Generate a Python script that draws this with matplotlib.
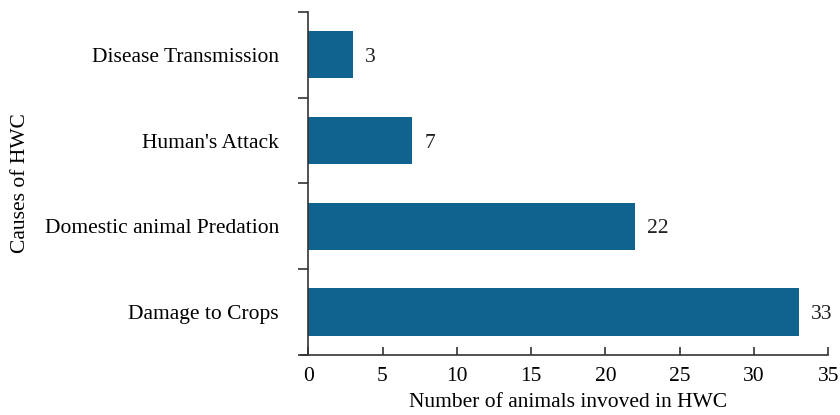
import matplotlib
matplotlib.use('Agg')
import matplotlib.pyplot as plt

# data
causes = ['Damage to Crops', 'Domestic animal Predation', "Human's Attack", 'Disease Transmission']
counts = [33, 22, 7, 3]
xticks = [0, 5, 10, 15, 20, 25, 30, 35]

plt.rcParams['font.family'] = ['Liberation Serif', 'DejaVu Serif']

fig = plt.figure(figsize=(8.4, 4.15), dpi=100)
ax = fig.add_axes([0.367, 0.145, 0.619, 0.826])

ypos = range(len(causes))
ax.barh(ypos, counts, height=0.55, color='#10628f')

# value labels at bar ends
for y, v in zip(ypos, counts):
    ax.text(v + 0.8, y, str(v), va='center_baseline', ha='left', fontsize=15.5, color='#222222')

ax.set_xlim(0, 35)
ax.set_ylim(-0.5, len(causes) - 0.5)
ax.set_xticks(xticks)
ax.set_xticklabels([str(t) for t in xticks], fontsize=15.5)

# y ticks at category boundaries, labels at centers
ax.set_yticks([i - 0.5 for i in range(len(causes) + 1)])
ax.set_yticklabels([])
ax.set_yticks(list(ypos), minor=True)
ax.set_yticklabels(causes, minor=True, fontsize=15.5)
ax.tick_params(axis='y', which='minor', length=0, pad=21)
ax.tick_params(axis='y', which='major', direction='out', length=7, width=1.2, color='#333333')
ax.tick_params(axis='x', direction='in', length=6, width=1.2, color='#333333', pad=9)

for s in ['top', 'right']:
    ax.spines[s].set_visible(False)
for s in ['left', 'bottom']:
    ax.spines[s].set_linewidth(1.2)
    ax.spines[s].set_color('#333333')
ax.spines['bottom'].set_bounds(-0.5, 35)

ax.set_xlabel('Number of animals invoved in HWC', fontsize=15.5)
ax.set_ylabel('Causes of HWC', fontsize=15.5)
ax.yaxis.set_label_coords(-0.535, 0.5)
ax.xaxis.set_label_coords(0.5, -0.112)

plt.savefig('out.png', dpi=100)
